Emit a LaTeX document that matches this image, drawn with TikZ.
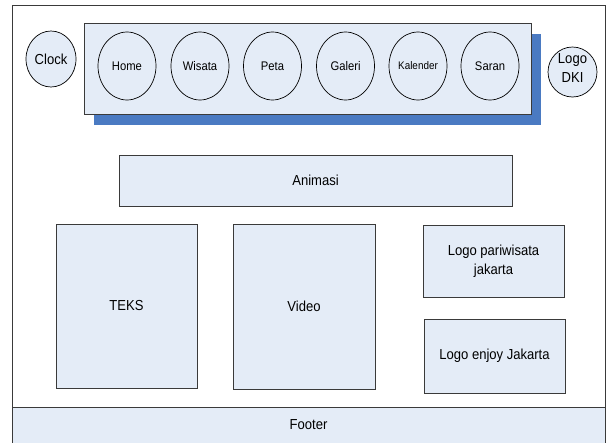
\documentclass[tikz,border=0pt]{standalone}
\usepackage{fontspec}
\setmainfont{Liberation Sans}[FakeStretch=0.9]
\usetikzlibrary{shapes.geometric,shadows}
\definecolor{panel}{HTML}{E4ECF7}
\definecolor{shadowblue}{HTML}{4A7AC2}
\definecolor{edge}{HTML}{3A3A3A}
\tikzset{
  box/.style={draw=edge, line width=0.9pt, fill=panel, inner sep=0pt,
    align=center, font=\fontsize{14.5}{19}\selectfont},
  navitem/.style={ellipse, draw=black, line width=0.7pt, fill=panel, inner sep=0pt,
    minimum width=58pt, minimum height=68pt, font=\fontsize{12.5}{15}\selectfont},
  sideitem/.style={ellipse, draw=black, line width=0.7pt, fill=panel, inner sep=0pt,
    align=center, font=\fontsize{14.5}{19}\selectfont},
}
\begin{document}
\begin{tikzpicture}[x=1pt, y=-1pt]
\useasboundingbox (0,0) rectangle (610,442);
\fill[white] (0,0) rectangle (610,442);

% page frame
\draw[draw=edge, line width=0.9pt] (12,5) rectangle (605,446);

% navigation bar with its shadow
\node[box, minimum width=447pt, minimum height=91pt,
  drop shadow={shadow xshift=10pt, shadow yshift=-11pt, fill=shadowblue, opacity=1}]
  (nav) at (307.5,68.5) {};

\node[navitem] (home) at (127,66) {Home};
\node[navitem] (wisata) at (200,66) {Wisata};
\node[navitem] (peta) at (272.5,66) {Peta};
\node[navitem] (galeri) at (345.5,66) {Galeri};
\node[navitem, font=\fontsize{11}{13}\selectfont] (kalender) at (418,66) {Kalender};
\node[navitem] (saran) at (490,66) {Saran};

% side items
\node[sideitem, minimum width=50pt, minimum height=56pt] (clock) at (51,59) {Clock};
\node[sideitem, minimum width=49pt, minimum height=50pt] (dki) at (572.5,72) {};
\node[align=center, inner sep=0pt, font=\fontsize{14.5}{19}\selectfont] (dkitext) at (572.5,68) {Logo\\DKI};

% content blocks
\node[box, minimum width=393pt, minimum height=51pt] (animasi) at (315.5,180.5) {Animasi};
\node[box, minimum width=141pt, minimum height=164pt] (teks) at (126.5,306) {TEKS};
\node[box, minimum width=142pt, minimum height=165pt] (video) at (304,306.5) {Video};
\node[box, minimum width=141pt, minimum height=72pt] (pariwisata) at (493.5,261) {Logo pariwisata\\jakarta};
\node[box, minimum width=141pt, minimum height=74pt] (enjoy) at (494.5,356) {Logo enjoy Jakarta};

% footer
\node[box, minimum width=593pt, minimum height=39pt, anchor=north] (footer) at (308.5,407) {};
\node[inner sep=0pt, font=\fontsize{14.5}{19}\selectfont] (footertext) at (308.5,425) {Footer};
\end{tikzpicture}
\end{document}
